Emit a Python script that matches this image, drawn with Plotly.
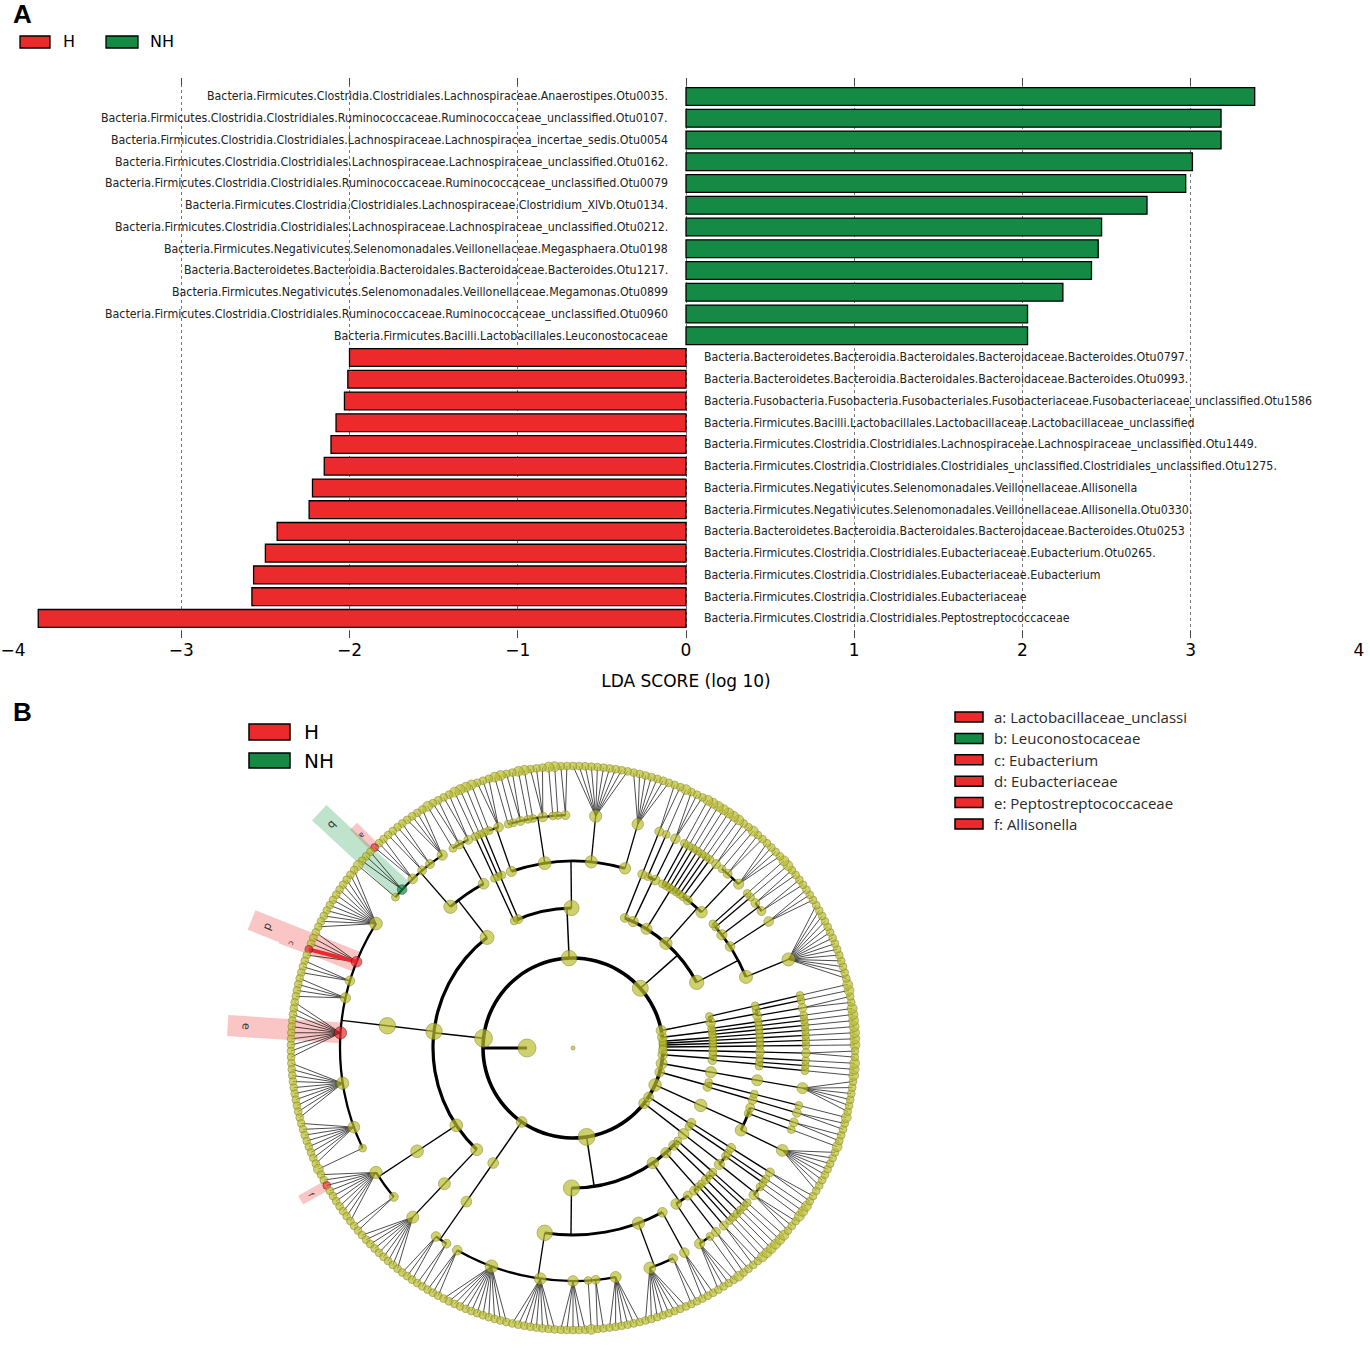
import math
import plotly.graph_objects as go

W, H = 1370, 1349


def px(x):
    return x / W


def py(y):
    return 1 - y / H


RED = "#EC2A2C"
GREEN = "#148A44"
OLIVE = "#BCBE2F"
OLIVE_EDGE = "#7E801C"

# ---------------- panel A: LDA scores ----------------
nh_labels = [
    "Bacteria.Firmicutes.Clostridia.Clostridiales.Lachnospiraceae.Anaerostipes.Otu0035.",
    "Bacteria.Firmicutes.Clostridia.Clostridiales.Ruminococcaceae.Ruminococcaceae_unclassified.Otu0107.",
    "Bacteria.Firmicutes.Clostridia.Clostridiales.Lachnospiraceae.Lachnospiracea_incertae_sedis.Otu0054",
    "Bacteria.Firmicutes.Clostridia.Clostridiales.Lachnospiraceae.Lachnospiraceae_unclassified.Otu0162.",
    "Bacteria.Firmicutes.Clostridia.Clostridiales.Ruminococcaceae.Ruminococcaceae_unclassified.Otu0079",
    "Bacteria.Firmicutes.Clostridia.Clostridiales.Lachnospiraceae.Clostridium_XlVb.Otu0134.",
    "Bacteria.Firmicutes.Clostridia.Clostridiales.Lachnospiraceae.Lachnospiraceae_unclassified.Otu0212.",
    "Bacteria.Firmicutes.Negativicutes.Selenomonadales.Veillonellaceae.Megasphaera.Otu0198",
    "Bacteria.Bacteroidetes.Bacteroidia.Bacteroidales.Bacteroidaceae.Bacteroides.Otu1217.",
    "Bacteria.Firmicutes.Negativicutes.Selenomonadales.Veillonellaceae.Megamonas.Otu0899",
    "Bacteria.Firmicutes.Clostridia.Clostridiales.Ruminococcaceae.Ruminococcaceae_unclassified.Otu0960",
    "Bacteria.Firmicutes.Bacilli.Lactobacillales.Leuconostocaceae",
]
nh_scores = [3.38, 3.18, 3.18, 3.01, 2.97, 2.74, 2.47, 2.45, 2.41, 2.24, 2.03, 2.03]

h_labels = [
    "Bacteria.Bacteroidetes.Bacteroidia.Bacteroidales.Bacteroidaceae.Bacteroides.Otu0797.",
    "Bacteria.Bacteroidetes.Bacteroidia.Bacteroidales.Bacteroidaceae.Bacteroides.Otu0993.",
    "Bacteria.Fusobacteria.Fusobacteria.Fusobacteriales.Fusobacteriaceae.Fusobacteriaceae_unclassified.Otu1586",
    "Bacteria.Firmicutes.Bacilli.Lactobacillales.Lactobacillaceae.Lactobacillaceae_unclassified",
    "Bacteria.Firmicutes.Clostridia.Clostridiales.Lachnospiraceae.Lachnospiraceae_unclassified.Otu1449.",
    "Bacteria.Firmicutes.Clostridia.Clostridiales.Clostridiales_unclassified.Clostridiales_unclassified.Otu1275.",
    "Bacteria.Firmicutes.Negativicutes.Selenomonadales.Veillonellaceae.Allisonella",
    "Bacteria.Firmicutes.Negativicutes.Selenomonadales.Veillonellaceae.Allisonella.Otu0330.",
    "Bacteria.Bacteroidetes.Bacteroidia.Bacteroidales.Bacteroidaceae.Bacteroides.Otu0253",
    "Bacteria.Firmicutes.Clostridia.Clostridiales.Eubacteriaceae.Eubacterium.Otu0265.",
    "Bacteria.Firmicutes.Clostridia.Clostridiales.Eubacteriaceae.Eubacterium",
    "Bacteria.Firmicutes.Clostridia.Clostridiales.Eubacteriaceae",
    "Bacteria.Firmicutes.Clostridia.Clostridiales.Peptostreptococcaceae",
]
h_scores = [-2.00, -2.01, -2.03, -2.08, -2.11, -2.15, -2.22, -2.24, -2.43, -2.50, -2.57, -2.58, -3.85]

x_ticks = [-4, -3, -2, -1, 0, 1, 2, 3, 4]

# ---------------- panel B: cladogram tree ----------------
# phylum = list of classes, class = list of orders, order = list of families,
# family = number of genera
lentisphaerae = [[[1]]]
deinococcus = [[[1]]]
gemmatimonadetes = [[[1]]]
elusimicrobia = [[[1]]]
chloroflexi = [[[1]], [[1]], [[1]]]
acidobacteria = [[[2], [1]], [[1]]]
proteobacteria = [
    [[14], [3], [2, 2], [1], [1]],
    [[4, 2, 1], [2], [1]],
    [[1], [1], [1], [1], [1], [1]],
    [[3], [1]],
    [[2]],
]
actinobacteria = [
    [[7], [10], [2, 1, 1, 3, 1, 1, 2, 1, 1], [3, 1]],
    [[1], [1]],
    [[1]],
]
firmicutes = [
    [[2, 2, 1], [4, 2, 2, 3, 3, 1]],
    [[12, 5, 3, 4, 10, 10, 8, 1]],
    [[10, 2]],
    [[9]],
]
fusobacteria = [[[3, 2]]]
bacteroidetes = [
    [[3, 12, 8, 5, 1, 2, 6], [8, 2], [3]],
    [[4, 1], [2]],
    [[2], [1], [1]],
    [[1, 1], [1]],
    [[1]],
]
spirochaetes = [[[3, 1], [1]]]
cyanobacteria = [[[1]], [[2]]]
tenericutes = [[[8], [1], [2]]]
verrucomicrobia = [[[2]], [[1]]]
synergistetes = [[[6]]]
planctomycetes = [[[1], [1]], [[1]]]
tm7 = [[[2]]]

phyla = [lentisphaerae, deinococcus, gemmatimonadetes, elusimicrobia, chloroflexi,
         acidobacteria, proteobacteria, actinobacteria, firmicutes, fusobacteria,
         bacteroidetes, spirochaetes, cyanobacteria, tenericutes, verrucomicrobia,
         synergistetes, planctomycetes, tm7]

fi = 8  # position of firmicutes in phyla
clade_letters = ["a", "b", "c", "d", "e", "f"]
clade_names = ["Lactobacillaceae_unclassi", "Leuconostocaceae", "Eubacterium",
               "Eubacteriaceae", "Peptostreptococcaceae", "Allisonella"]
clade_groups = ["H", "NH", "H", "H", "H", "H"]
clade_paths = [(fi, 0, 1, 3, 2), (fi, 0, 1, 4), (fi, 1, 0, 1, 3),
               (fi, 1, 0, 1), (fi, 1, 0, 4), (fi, 2, 0, 0, 2)]

R_LEVEL = [0, 46, 90, 140, 187, 233, 282]
ARC_W = {1: 3.6, 2: 3.2, 3: 2.8, 4: 2.3}
RAD_W = {1: 3.0, 2: 1.5, 3: 1.4, 4: 1.3, 5: 0.7}

nodes = {}
counter = [0]


def build(path, level, item):
    lo = counter[0]
    kids = []
    if level == 5:
        for g in range(item):
            p = path + (g,)
            nodes[p] = {"level": 6, "lo": counter[0], "hi": counter[0], "kids": [], "parent": path}
            kids.append(p)
            counter[0] += 1
    else:
        for k, sub in enumerate(item):
            p = path + (k,)
            build(p, level + 1, sub)
            kids.append(p)
    nodes[path] = {"level": level, "lo": lo, "hi": counter[0] - 1, "kids": kids,
                   "parent": path[:-1] if path else None}


build((), 1, phyla)
n_leaves = counter[0]


def theta(p):
    n = nodes[p]
    return ((n["lo"] + n["hi"]) / 2 + 0.5) * 360.0 / n_leaves


group_color = {"H": RED, "NH": GREEN}
marked = {p: group_color[g] for p, g in zip(clade_paths, clade_groups)}

fig = go.Figure()

# bars
fig.add_trace(go.Bar(
    x=nh_scores + h_scores,
    y=list(range(len(nh_scores) + len(h_scores))),
    orientation="h",
    width=0.82,
    marker=dict(color=[GREEN] * len(nh_scores) + [RED] * len(h_scores),
                line=dict(color="black", width=1.3)),
    xaxis="x", yaxis="y", showlegend=False, hoverinfo="skip",
))

# highlight boxes (cartesian overlay centred on the tree)
for grp, col in [("H", "rgba(240,90,90,0.35)"), ("NH", "rgba(60,170,100,0.33)")]:
    bx, by = [], []
    for p, g in zip(clade_paths, clade_groups):
        if g != grp:
            continue
        t = math.radians(theta(p))
        if nodes[p]["level"] == 6:
            r0, r1, w = 284, 312, 10
        else:
            r0, r1, w = R_LEVEL[nodes[p]["level"]], 346, 21
        ux, uy, vx, vy = math.cos(t), math.sin(t), -math.sin(t), math.cos(t)
        for rr, ww in [(r0, -w / 2), (r1, -w / 2), (r1, w / 2), (r0, w / 2), (r0, -w / 2)]:
            bx.append(rr * ux + ww * vx)
            by.append(rr * uy + ww * vy)
        bx.append(None)
        by.append(None)
    fig.add_trace(go.Scatter(x=bx, y=by, mode="lines", fill="toself", fillcolor=col,
                             line=dict(width=0), xaxis="x2", yaxis="y2",
                             showlegend=False, hoverinfo="skip"))

# arcs of the tree
for lv in range(1, 5):
    mids, widths = [], []
    for p, n in nodes.items():
        if n["level"] != lv or len(n["kids"]) < 2:
            continue
        t0, t1 = theta(n["kids"][0]), theta(n["kids"][-1])
        mids.append((t0 + t1) / 2)
        widths.append(t1 - t0)
    th = ARC_W[lv]
    fig.add_trace(go.Barpolar(
        r=[th] * len(mids), base=[R_LEVEL[lv + 1] - th / 2] * len(mids),
        theta=mids, width=widths,
        marker=dict(color="black", line=dict(width=0)),
        showlegend=False, hoverinfo="skip", subplot="polar",
    ))

# radial links and fans
for lv in range(1, 6):
    rr, tt = [], []
    for p, n in nodes.items():
        if n["level"] != lv or not n["kids"]:
            continue
        tp = theta(p)
        if lv < 5:
            rr += [R_LEVEL[lv], R_LEVEL[lv + 1], None]
            tt += [tp, tp, None]
        else:
            for k in n["kids"]:
                rr += [R_LEVEL[5], R_LEVEL[6], None]
                tt += [tp, theta(k), None]
    fig.add_trace(go.Scatterpolar(r=rr, theta=tt, mode="lines",
                                  line=dict(color="black", width=RAD_W[lv]),
                                  showlegend=False, hoverinfo="skip", subplot="polar"))

# coloured links between marked clades
for p in clade_paths:
    par = nodes[p]["parent"]
    if par in marked:
        fig.add_trace(go.Scatterpolar(
            r=[R_LEVEL[nodes[par]["level"]], R_LEVEL[nodes[p]["level"]]],
            theta=[theta(par), theta(p)], mode="lines",
            line=dict(color=marked[p], width=4),
            showlegend=False, hoverinfo="skip", subplot="polar"))

# nodes
nr, nt, ns, nc = [0], [0], [4], [OLIVE]
for p, n in nodes.items():
    lv = n["level"]
    size = min(18, 6 + 2.6 * math.log(1 + n["hi"] - n["lo"] + 1))
    if lv == 6 and len(nodes[n["parent"]]["kids"]) == 1:
        size += 2
    nr.append(R_LEVEL[lv])
    nt.append(theta(p))
    ns.append(size)
    nc.append(marked.get(p, OLIVE))
edge = ["#5a1010" if c == RED else "#0b4d24" if c == GREEN else OLIVE_EDGE for c in nc]
fig.add_trace(go.Scatterpolar(r=nr, theta=nt, mode="markers",
                              marker=dict(size=ns, color=nc, line=dict(color=edge, width=0.8)),
                              showlegend=False, hoverinfo="skip", subplot="polar"))

# ---------------- annotations / legends ----------------
ann = []
font_lab = dict(family="Liberation Sans Narrow, DejaVu Sans Condensed, Arial Narrow, sans-serif",
                size=12.3, color="#222")
for i, (lab, s) in enumerate(zip(nh_labels + h_labels, nh_scores + h_scores)):
    ann.append(dict(x=0, y=i, xref="x", yref="y", text=lab, showarrow=False,
                    xanchor="right" if s > 0 else "left", yanchor="middle",
                    xshift=-16 if s > 0 else 16, font=font_lab))


def label(x, y, text, size, color="black", family="DejaVu Sans"):
    ann.append(dict(x=px(x), y=py(y), xref="paper", yref="paper", text=text, showarrow=False,
                    xanchor="left", yanchor="middle", font=dict(family=family, size=size, color=color)))


label(11, 14, "<b>A</b>", 26, family="Liberation Sans")
label(11, 712, "<b>B</b>", 26, family="Liberation Sans")

shapes = []


def rect(x0, y0, x1, y1, color, lw=1.3):
    shapes.append(dict(type="rect", xref="paper", yref="paper", x0=px(x0), x1=px(x1),
                       y0=py(y1), y1=py(y0), fillcolor=color, line=dict(color="black", width=lw)))


# panel A legend
rect(20, 36, 50, 48, RED)
label(61, 42, "H", 16)
rect(106, 36, 138, 48, GREEN)
label(148, 42, "NH", 16)

# panel B legend (groups)
rect(249, 724, 290, 740, RED, 1.5)
label(302, 732, "H", 20)
rect(249, 753, 290, 768, GREEN, 1.5)
label(302, 761, "NH", 20)

# panel B legend (clades)
for k, (let, name, grp) in enumerate(zip(clade_letters, clade_names, clade_groups)):
    yc = 717 + k * 21.4
    rect(955, yc - 5, 983, yc + 5, group_color[grp], 1.5)
    label(992, yc, f"{let}: {name}", 15, "#2a2a2a", "Open Sans")

# clade letters
for p, let in zip(clade_paths, clade_letters):
    t = theta(p)
    small = nodes[p]["level"] == 6
    rr = 300 if small else 328
    ann.append(dict(x=rr * math.cos(math.radians(t)), y=rr * math.sin(math.radians(t)),
                    xref="x2", yref="y2", text=let, showarrow=False,
                    textangle=((-(t + 90) + 180) % 360) - 180,
                    font=dict(family="DejaVu Sans", size=8 if small else 11, color="#333")))

fig.update_layout(
    width=W, height=H,
    margin=dict(l=0, r=0, t=0, b=0, pad=0, autoexpand=False),
    paper_bgcolor="white", plot_bgcolor="white",
    showlegend=False,
    xaxis=dict(domain=[px(13), px(1359)], range=[-4, 4], tickvals=x_ticks, automargin=False,
               showgrid=True, griddash="dot", gridcolor="#777777", gridwidth=1,
               zeroline=False, showline=False, ticks="inside", ticklen=7,
               tickcolor="#444", mirror="ticks", anchor="y",
               tickfont=dict(family="DejaVu Sans", size=17, color="black"),
               title=dict(text="LDA SCORE (log 10)", standoff=16,
                          font=dict(family="DejaVu Sans", size=17, color="black"))),
    yaxis=dict(domain=[py(638), py(78)], range=[24.9, -0.85], showgrid=False, automargin=False,
               zeroline=False, showticklabels=False, ticks="", showline=False),
    xaxis2=dict(domain=[px(213), px(933)], range=[-360, 360], visible=False, anchor="y2",
                automargin=False),
    yaxis2=dict(domain=[py(1348), py(688)], range=[-300, 360], visible=False, anchor="x2",
                automargin=False),
    polar=dict(domain=dict(x=[px(273), px(873)], y=[py(1348), py(748)]),
               bgcolor="rgba(0,0,0,0)", barmode="overlay",
               radialaxis=dict(visible=False, range=[0, 300]),
               angularaxis=dict(visible=False, rotation=0, direction="counterclockwise")),
    annotations=ann,
    shapes=shapes,
)

# the page's default body margin would push the fixed-size figure off by 8px
fig.write_html("out.html", config={"displayModeBar": False},
               post_script="document.body.style.margin = '0px';")
